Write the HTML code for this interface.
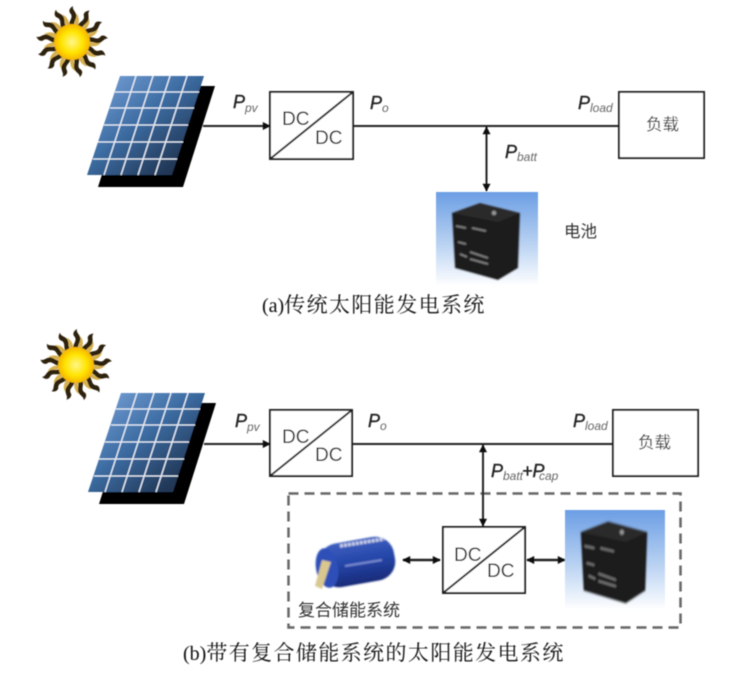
<!DOCTYPE html>
<html><head><meta charset="utf-8">
<style>
html,body{margin:0;padding:0;background:#fff}
svg{display:block}
text{font-family:"Liberation Sans","Noto Sans CJK SC",sans-serif;fill:#222}
.p{font-style:italic;font-size:18px;fill:#222;stroke:#222;stroke-width:.4}
.s{font-style:italic;font-size:12px;fill:#666}
.dc{font-size:19px;fill:#222}
.cn{font-size:16.500px;fill:#333}
.cap{font-family:"Liberation Serif","Noto Serif CJK SC",serif;font-size:21px;letter-spacing:1.400px;fill:#111}
.cap2{font-size:20px;letter-spacing:0}
</style></head><body>
<svg width="729" height="674" viewBox="0 0 729 674" xmlns="http://www.w3.org/2000/svg">
<defs>
<filter id="blur" x="-5%" y="-5%" width="110%" height="110%"><feGaussianBlur stdDeviation="0.45"/></filter>
<filter id="blur2" x="-10%" y="-10%" width="120%" height="120%"><feGaussianBlur stdDeviation="0.9"/></filter>
<radialGradient id="sg" cx="50%" cy="50%" r="50%"><stop offset="0" stop-color="#fff68a"/><stop offset=".6" stop-color="#ffe400"/><stop offset="1" stop-color="#f6b400"/></radialGradient>
<linearGradient id="pg" x1="0" y1="0" x2="1" y2="1"><stop offset="0" stop-color="#7fa8de"/><stop offset=".45" stop-color="#3c6ca2"/><stop offset=".8" stop-color="#233a5a"/><stop offset="1" stop-color="#18243a"/></linearGradient>
<linearGradient id="bg" x1="0" y1="0" x2="0" y2="1"><stop offset="0" stop-color="#6c9ee4"/><stop offset=".55" stop-color="#b9d2f2"/><stop offset="1" stop-color="#fff"/></linearGradient>
<linearGradient id="cg" x1="0" y1="0" x2="0" y2="1"><stop offset="0" stop-color="#3e5fc0"/><stop offset=".5" stop-color="#2445a8"/><stop offset="1" stop-color="#182a78"/></linearGradient>
<g id="ray">
<path d="M-1 -15 C-6 -20 3 -24 -2 -29 C-4 -32 -1 -35 1 -36 C0 -33 3 -31 4 -28 C6 -23 0 -20 3 -15Z" fill="#2e2410"/>
<path d="M3 -16 C1 -21 6 -24 4 -29 C8 -25 7 -20 6 -16Z" fill="#d6b050"/>
</g>
<g id="sun">
<use href="#ray"/><use href="#ray" transform="rotate(27.700)"/><use href="#ray" transform="rotate(55.400)"/><use href="#ray" transform="rotate(83)"/><use href="#ray" transform="rotate(110.800)"/><use href="#ray" transform="rotate(138.500)"/><use href="#ray" transform="rotate(166)"/><use href="#ray" transform="rotate(193.800)"/><use href="#ray" transform="rotate(221.500)"/><use href="#ray" transform="rotate(249)"/><use href="#ray" transform="rotate(277)"/><use href="#ray" transform="rotate(304.600)"/><use href="#ray" transform="rotate(332)"/>
<circle r="18" fill="url(#sg)"/>
</g>
<g id="panel">
<path d="M130 86H215L183 187H98Z" fill="#000"/>
<path d="M120 76H204L172 175H87Z" fill="url(#pg)"/>
<g stroke="#e8eef8" stroke-width="1.300" fill="none">
<path d="M115 92H199M110 108H194M104 125H188M98 142H183M93 159H177"/>
<path d="M136 76L104 175M153 76L121 175M170 76L138 175M187 76L155 175"/>
</g>
</g>
<g id="bat">
<rect x="0" y="0" width="102" height="94" fill="url(#bg)"/>
<g filter="url(#blur2)">
<path d="M16 21L44 11L84 21L82 76L62 88L19 76Z" fill="#1c1c1f"/>
<path d="M16 21L44 11L84 21L62 30Z" fill="#29292c"/>
<path d="M20 34L30 36M36 36L50 39M22 50L30 52M24 62L31 65M34 60L52 66M34 67L52 72" stroke="#8a8a8a" stroke-width="1.500" fill="none"/>
<circle cx="58" cy="21" r="2.200" fill="#999"/>
</g>
</g>
<marker id="a" viewBox="0 0 10 10" refX="9" refY="5" markerWidth="9" markerHeight="8" markerUnits="userSpaceOnUse" orient="auto-start-reverse"><path d="M0 0L10 5L0 10Z" fill="#111"/></marker>
</defs>

<g filter="url(#blur)">
<!-- (a) -->
<use href="#sun" transform="translate(72 42)"/>
<use href="#panel"/>
<g fill="#fff" stroke="#222" stroke-width="2">
<rect x="270" y="92" width="83" height="67"/>
<rect x="619" y="92" width="85" height="66"/>
</g>
<g stroke="#222" stroke-width="2" fill="none">
<path d="M270 159L353 92"/>
<path d="M203 126H270" marker-end="url(#a)"/>
<path d="M353 126H619"/>
<path d="M486.500 127V191" marker-start="url(#a)" marker-end="url(#a)"/>
</g>
<text class="dc" x="282" y="125">DC</text><text class="dc" x="315" y="144">DC</text>
<text class="p" x="233" y="108">P</text><text class="s" x="245" y="112">pv</text>
<text class="p" x="370" y="109">P</text><text class="s" x="382" y="112">o</text>
<text class="p" x="578" y="109">P</text><text class="s" x="590" y="112">load</text>
<text class="p" x="505" y="158">P</text><text class="s" x="517" y="161">batt</text>
<text class="cn" x="646" y="130">负载</text>
<use href="#bat" transform="translate(436 192)"/>
<text class="cn" x="564" y="237">电池</text>
<text class="cap" x="262" y="312"><tspan class="cap2">(a)</tspan>传统太阳能发电系统</text>

<!-- (b) -->
<use href="#sun" transform="translate(76 365)"/>
<use href="#panel" transform="translate(1 317)"/>
<g fill="#fff" stroke="#222" stroke-width="2">
<rect x="270" y="410" width="82" height="66"/>
<rect x="613" y="410" width="85" height="66"/>
<rect x="443" y="527" width="82" height="66"/>
</g>
<rect x="288.500" y="493.500" width="392" height="134" fill="none" stroke="#666" stroke-width="2.500" stroke-dasharray="10 6"/>
<g stroke="#222" stroke-width="2" fill="none">
<path d="M270 476L352 410"/>
<path d="M443 593L525 527"/>
<path d="M204 444H270" marker-end="url(#a)"/>
<path d="M352 444H613"/>
<path d="M483 445V526" marker-start="url(#a)" marker-end="url(#a)"/>
<path d="M403 560H440" stroke-width="2.400" marker-start="url(#a)" marker-end="url(#a)"/>
<path d="M527 560H565" stroke-width="2.400" marker-start="url(#a)" marker-end="url(#a)"/>
</g>
<text class="dc" x="454" y="561">DC</text><text class="dc" x="487" y="577">DC</text>
<text class="dc" x="282" y="443">DC</text><text class="dc" x="315" y="461">DC</text>
<text class="p" x="235" y="427">P</text><text class="s" x="247" y="431">pv</text>
<text class="p" x="368" y="427">P</text><text class="s" x="380" y="430">o</text>
<text class="p" x="573" y="427">P</text><text class="s" x="585" y="430">load</text>
<text class="p" x="491" y="477">P</text><text class="s" x="503" y="480">batt</text><text class="p" x="522" y="477">+P</text><text class="s" x="539" y="480">cap</text>
<text class="cn" x="638" y="448">负载</text>
<use href="#bat" transform="translate(565 510) scale(.98 1.06)"/>
<!-- capacitor -->
<g filter="url(#blur2)">
<rect x="319" y="540" width="76" height="44" rx="19" fill="url(#cg)" transform="rotate(-10 357 562)"/>
<ellipse cx="327" cy="568" rx="11" ry="20" fill="#2f50b8" transform="rotate(-10 327 568)"/>
<path d="M340 546L384 539" stroke="#c8d0ea" stroke-width="3.500" stroke-dasharray="3 1"/>
<path d="M345 566L382 560" stroke="#7a8cd0" stroke-width="2"/>
<path d="M322 560L331 562L322 589L315 586Z" fill="#d8c890"/>
</g>
<text class="cn" x="298" y="616" style="font-size:17px">复合储能系统</text>
<text class="cap" x="183" y="660"><tspan class="cap2">(b)</tspan>带有复合储能系统的太阳能发电系统</text>
</g>
</svg>
</body></html>
